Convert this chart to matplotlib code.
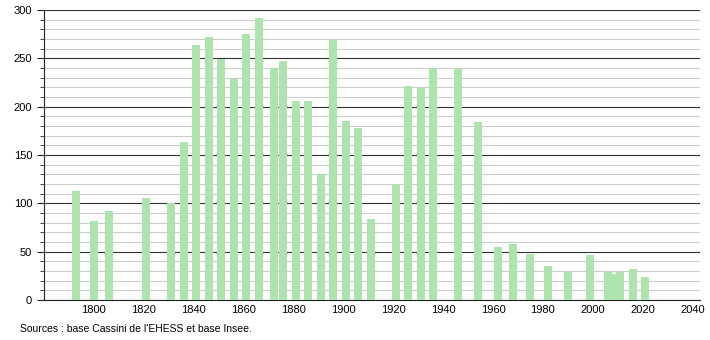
import matplotlib
matplotlib.use("Agg")
import matplotlib.pyplot as plt
from matplotlib.ticker import MultipleLocator

plt.rcParams['font.family'] = ['Liberation Sans', 'DejaVu Sans']

# Census years and population
years = [1793, 1800, 1806, 1821, 1831, 1836, 1841, 1846, 1851, 1856,
         1861, 1866, 1872, 1876, 1881, 1886, 1891, 1896, 1901, 1906,
         1911, 1921, 1926, 1931, 1936, 1946, 1954, 1962, 1968, 1975,
         1982, 1990, 1999, 2006, 2008, 2011, 2016, 2021]
population = [113, 82, 92, 105, 100, 163, 264, 272, 249, 228,
              275, 292, 240, 247, 206, 206, 130, 269, 185, 178,
              84, 120, 221, 219, 240, 239, 184, 55, 58, 47,
              35, 29, 46, 29, 27, 29, 32, 24]
source = "Sources : base Cassini de l'EHESS et base Insee."

fig = plt.figure(figsize=(7.1, 3.4), dpi=100)
ax = fig.add_axes([0.062, 0.118, 0.924, 0.853])

# Grid: light every 10, dark every 50
ax.yaxis.set_major_locator(MultipleLocator(50))
ax.yaxis.set_minor_locator(MultipleLocator(10))
ax.grid(which='minor', axis='y', color='#cccccc', linewidth=0.8)
ax.grid(which='major', axis='y', color='#333333', linewidth=0.8)
ax.set_axisbelow(True)

ax.bar(years, population, width=3.2, color='#ade4ad', zorder=3)

ax.set_xlim(1780, 2043)
ax.set_ylim(0, 300)
ax.set_xticks(range(1800, 2041, 20))

for s in ['top', 'right']:
    ax.spines[s].set_visible(False)
ax.spines['left'].set_color('#222222')
ax.spines['bottom'].set_color('#222222')
ax.tick_params(axis='x', length=0, labelsize=8, pad=4)
ax.tick_params(axis='y', which='major', length=5, labelsize=8, color='#222222')
ax.tick_params(axis='y', which='minor', length=3, color='#222222')

fig.text(0.028, 0.032, source, fontsize=7.5, ha='left', va='center')

fig.savefig('out.png', dpi=100)
